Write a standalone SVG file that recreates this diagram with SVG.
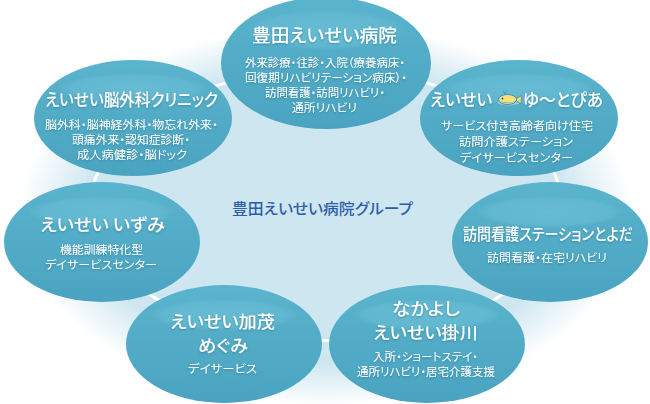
<svg xmlns="http://www.w3.org/2000/svg" width="650" height="404" viewBox="0 0 650 404">
<defs>
  <radialGradient id="bg" gradientUnits="userSpaceOnUse" cx="326" cy="215" r="330" gradientTransform="translate(326 215) scale(1 0.62) translate(-326 -215)">
    <stop offset="0" stop-color="#cde6ef"/>
    <stop offset="0.72" stop-color="#cde6ef"/>
    <stop offset="0.93" stop-color="#ffffff"/>
  </radialGradient>
  <linearGradient id="nodeFill" x1="0" y1="0" x2="0" y2="1">
    <stop offset="0" stop-color="#5ab4cd"/>
    <stop offset="1" stop-color="#4aa3c0"/>
  </linearGradient>
  <radialGradient id="gloss" cx="0.5" cy="0.5" r="0.5">
    <stop offset="0" stop-color="#68bdd4" stop-opacity="0.9"/>
    <stop offset="0.8" stop-color="#66bbd3" stop-opacity="0.7"/>
    <stop offset="1" stop-color="#66bbd3" stop-opacity="0"/>
  </radialGradient>
  <filter id="ts" filterUnits="userSpaceOnUse" x="0" y="0" width="650" height="404">
    <feDropShadow dx="0" dy="1" stdDeviation="0.8" flood-color="#1f6a84" flood-opacity="0.55"/>
  </filter>
  <style>
    .node { fill: url(#nodeFill); }
    .gl { fill: url(#gloss); }
    .t { font-family: "Noto Sans CJK JP", "Noto Sans", sans-serif; font-feature-settings: "palt"; fill: #ffffff; text-anchor: middle; filter: url(#ts); }
    .tl { font-family: "Noto Sans CJK JP", "Noto Sans", sans-serif; font-feature-settings: "palt"; fill: #ffffff; filter: url(#ts); }
    .h { font-size: 17px; font-weight: 500; }
    .h2 { font-size: 16.5px; font-weight: 500; }
    .b { font-size: 11.5px; }
    .ring { fill: none; stroke: #ffffff; stroke-width: 3; }
    .center { font-family: "Noto Sans CJK JP", "Noto Sans", sans-serif; font-feature-settings: "palt"; fill: #2e5ea9; font-size: 15px; font-weight: 500; text-anchor: middle; }
  </style>
</defs>
<rect x="0" y="0" width="650" height="404" fill="#ffffff"/>
<rect x="0" y="0" width="650" height="404" fill="url(#bg)"/>

<g id="connectors">
  <path class="ring" d="M326,70 A235,135 0 0,1 509,120"/>
  <path class="ring" d="M509,120 A235,135 0 0,1 552,242"/>
  <path class="ring" d="M552,242 A235,135 0 0,1 428,327"/>
  <path class="ring" d="M428,327 A235,135 0 0,1 224,327"/>
  <path class="ring" d="M224,327 A235,135 0 0,1 100,242"/>
  <path class="ring" d="M100,242 A235,135 0 0,1 143,120"/>
  <path class="ring" d="M143,120 A235,135 0 0,1 326,70"/>
</g>

<text class="center" x="322.5" y="214" textLength="181" lengthAdjust="spacingAndGlyphs">豊田えいせい病院グループ</text>

<g id="node-toyota">
  <ellipse class="node" cx="326" cy="63" rx="105" ry="66"/>
  <ellipse class="gl" cx="326" cy="30" rx="80" ry="20"/>
  <text class="t" x="324.5" y="42" font-size="18" font-weight="500" textLength="145" lengthAdjust="spacingAndGlyphs">豊田えいせい病院</text>
  <text class="t b" x="325" y="67" textLength="160" lengthAdjust="spacingAndGlyphs">外来診療・往診・入院（療養病床・</text>
  <text class="t b" x="326" y="82" textLength="162" lengthAdjust="spacingAndGlyphs">回復期リハビリテーション病床）・</text>
  <text class="t b" x="325" y="97" textLength="120" lengthAdjust="spacingAndGlyphs">訪問看護・訪問リハビリ・</text>
  <text class="t b" x="324.5" y="112" textLength="65" lengthAdjust="spacingAndGlyphs">通所リハビリ</text>
</g>

<g id="node-clinic">
  <ellipse class="node" cx="133" cy="118" rx="99" ry="58"/>
  <ellipse class="gl" cx="133" cy="89" rx="75" ry="16"/>
  <text class="t h" x="131.5" y="106" textLength="173" lengthAdjust="spacingAndGlyphs">えいせい脳外科クリニック</text>
  <text class="t b" x="131.5" y="129" textLength="173" lengthAdjust="spacingAndGlyphs">脳外科・脳神経外科・物忘れ外来・</text>
  <text class="t b" x="131" y="144" textLength="118" lengthAdjust="spacingAndGlyphs">頭痛外来・認知症診断・</text>
  <text class="t b" x="132" y="159" textLength="110" lengthAdjust="spacingAndGlyphs">成人病健診・脳ドック</text>
</g>

<g id="node-utopia">
  <ellipse class="node" cx="519" cy="118" rx="99" ry="58"/>
  <ellipse class="gl" cx="519" cy="89" rx="75" ry="16"/>
  <text class="tl h" x="430" y="106" textLength="62" lengthAdjust="spacingAndGlyphs">えいせい</text>
  <g id="fish">
    <ellipse cx="508.5" cy="102.5" rx="11" ry="3" fill="#8fcbe6"/>
    <polygon points="515,99.5 521.5,95.5 521,104" fill="#f4dc6a" stroke="#2f7fb0" stroke-width="0.7"/>
    <ellipse cx="507.5" cy="99.5" rx="9" ry="5" fill="#f6e07a" stroke="#2f7fb0" stroke-width="0.8"/>
    <path d="M498.8,100.5 Q507.5,106 516.3,100.5 Q507.5,104.5 498.8,100.5 Z" fill="#5aa9d6"/>
    <circle cx="502.5" cy="98.5" r="0.9" fill="#234a75"/>
    <path d="M505,94.5 Q504.5,92 503,91 M505,94.5 Q505.5,92 507,91" fill="none" stroke="#3b8fc4" stroke-width="0.9"/>
  </g>
  <text class="tl h" x="523" y="106" textLength="80" lengthAdjust="spacingAndGlyphs">ゆ～とぴあ</text>
  <text class="t b" x="517" y="130" font-size="12" textLength="152" lengthAdjust="spacingAndGlyphs">サービス付き高齢者向け住宅</text>
  <text class="t b" x="516" y="146" font-size="12" textLength="114" lengthAdjust="spacingAndGlyphs">訪問介護ステーション</text>
  <text class="t b" x="516.5" y="162" font-size="12" textLength="113" lengthAdjust="spacingAndGlyphs">デイサービスセンター</text>
</g>

<g id="node-izumi">
  <ellipse class="node" cx="102" cy="242" rx="98" ry="60"/>
  <ellipse class="gl" cx="102" cy="212" rx="74" ry="16"/>
  <text class="t h" x="102.5" y="231" textLength="125" lengthAdjust="spacingAndGlyphs">えいせい いずみ</text>
  <text class="t b" x="101.5" y="254" font-size="12" textLength="83" lengthAdjust="spacingAndGlyphs">機能訓練特化型</text>
  <text class="t b" x="101" y="269" font-size="12" textLength="112" lengthAdjust="spacingAndGlyphs">デイサービスセンター</text>
</g>

<g id="node-toyoda">
  <ellipse class="node" cx="550" cy="242" rx="98" ry="60"/>
  <ellipse class="gl" cx="550" cy="212" rx="74" ry="16"/>
  <text class="t" x="548" y="240" font-size="16" font-weight="500" textLength="170" lengthAdjust="spacingAndGlyphs">訪問看護ステーションとよだ</text>
  <text class="t b" x="547" y="262" textLength="120" lengthAdjust="spacingAndGlyphs">訪問看護・在宅リハビリ</text>
</g>

<g id="node-megumi">
  <ellipse class="node" cx="224" cy="344" rx="98" ry="59"/>
  <ellipse class="gl" cx="224" cy="315" rx="74" ry="16"/>
  <text class="t h2" x="222.5" y="328" textLength="105" lengthAdjust="spacingAndGlyphs">えいせい加茂</text>
  <text class="t h2" x="223" y="352" textLength="50" lengthAdjust="spacingAndGlyphs">めぐみ</text>
  <text class="t b" x="222.5" y="373" textLength="69" lengthAdjust="spacingAndGlyphs">デイサービス</text>
</g>

<g id="node-kakegawa">
  <ellipse class="node" cx="427" cy="344" rx="98" ry="59"/>
  <ellipse class="gl" cx="427" cy="315" rx="74" ry="16"/>
  <text class="t h2" x="426" y="315" textLength="68" lengthAdjust="spacingAndGlyphs">なかよし</text>
  <text class="t h2" x="425.5" y="339" textLength="105" lengthAdjust="spacingAndGlyphs">えいせい掛川</text>
  <text class="t b" x="425.5" y="361" textLength="105" lengthAdjust="spacingAndGlyphs">入所・ショートステイ・</text>
  <text class="t b" x="426" y="376" textLength="138" lengthAdjust="spacingAndGlyphs">通所リハビリ・居宅介護支援</text>
</g>
</svg>
